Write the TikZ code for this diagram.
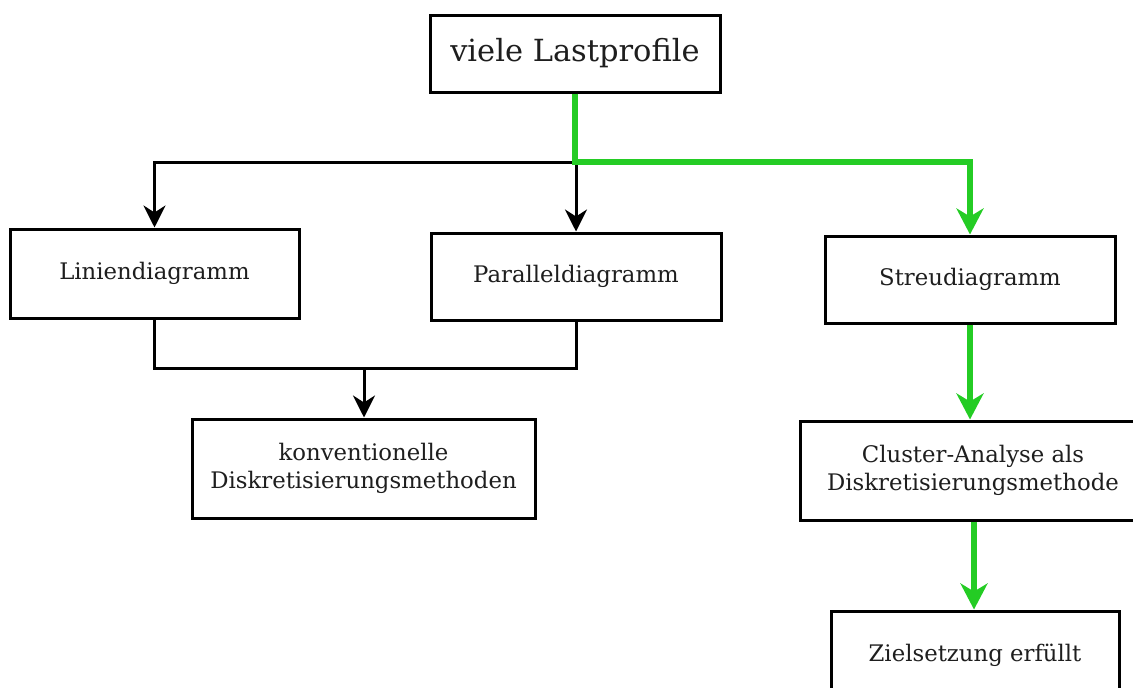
\documentclass[tikz,border=0pt]{standalone}
\usepackage{fontspec}
\setmainfont{DejaVu Serif}
\usetikzlibrary{arrows.meta}
\definecolor{grn}{RGB}{36,204,36}
\definecolor{txt}{RGB}{30,30,30}
\tikzset{
  box/.style={draw=black, line width=3pt, fill=white, text=txt, align=center, inner sep=0pt},
  lbl/.style={font=\fontsize{22.8}{28}\selectfont},
  blk/.style={draw=black, line width=3pt, -{Stealth[length=22pt,width=22pt,inset=7pt]}},
  blkline/.style={draw=black, line width=3pt},
  gr/.style={draw=grn, line width=6pt, -{Stealth[length=26pt,width=27pt,inset=8pt]}},
}
\begin{document}
\begin{tikzpicture}[x=1pt,y=-1pt]
\useasboundingbox (0,0) rectangle (1133,688);
\clip (0,0) rectangle (1133,688);
\node[box, minimum width=290pt, minimum height=77pt, font=\fontsize{30.5}{36}\selectfont] (top) at (575,53.5) {viele Lastprofile};
\node[box, lbl, minimum width=289pt, minimum height=89pt] (lin) at (154.5,273.5) {Liniendiagramm};
\node[box, lbl, minimum width=290pt, minimum height=87pt] (par) at (576,276.5) {Paralleldiagramm};
\node[box, lbl, minimum width=290pt, minimum height=87pt] (str) at (970,279.5) {Streudiagramm};
\node[box, lbl, minimum width=343pt, minimum height=99pt] (konv) at (363.5,468.5) {konventionelle\\Diskretisierungsmethoden};
\node[box, lbl, minimum width=346pt, minimum height=99pt] (clu) at (973,470.5) {Cluster-Analyse als\\Diskretisierungsmethode};
\node[box, lbl, minimum width=288pt, minimum height=88pt] (ziel) at (975,655) {Zielsetzung erfüllt};
% junction coordinates
\coordinate (j1) at (575,162);
\coordinate (j2) at (364,368);
\coordinate (c1) at (974,0);
% black branch
\draw[blk] (j1) -| (lin.north);
\draw[blk] (j1) -| (par.north);
% merge into konventionelle
\draw[blkline] (lin.south) |- (j2) -| (par.south);
\draw[blk] (j2) -- (konv.north -| j2);
% green path
\draw[gr] (top.south) |- (j1) -| (str.north);
\draw[gr] (str.south) -- (clu.north -| str.south);
\draw[gr] (clu.south -| c1) -- (ziel.north -| c1);
\end{tikzpicture}
\end{document}
